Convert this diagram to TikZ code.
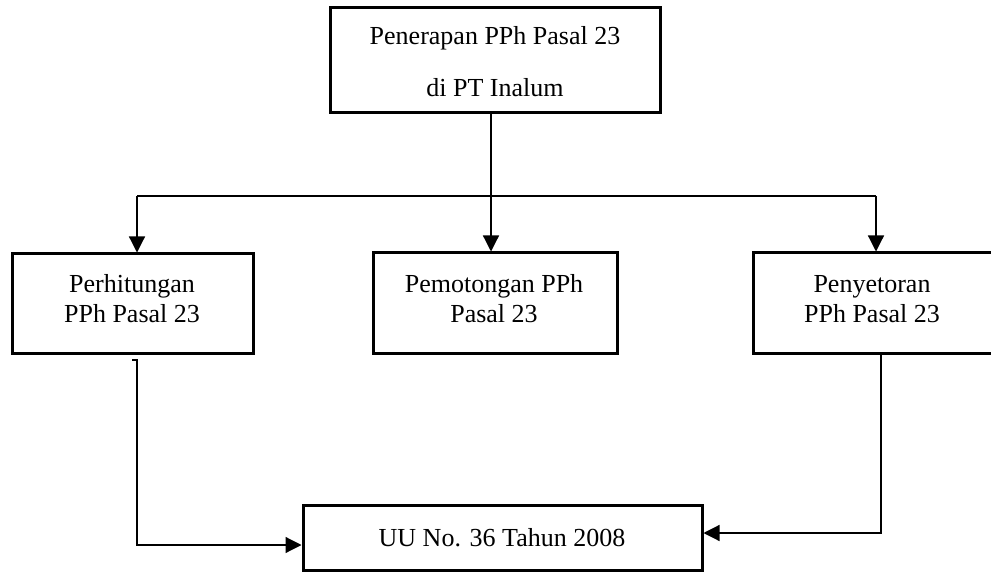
\documentclass[tikz,border=0pt]{standalone}
\usepackage{fontspec}
\setmainfont{Liberation Serif}
\usetikzlibrary{arrows.meta}
\begin{document}
\begin{tikzpicture}[x=1pt,y=-1pt,
  box/.style={draw=black,line width=3pt,rectangle,inner sep=0pt},
  lbl/.style={anchor=base,inner sep=0pt,font=\fontsize{26}{31}\selectfont},
  conn/.style={draw=black,line width=1.2pt},
  arr/.style={conn,-{Triangle[length=16pt,width=16pt]}}]
\useasboundingbox (0,0) rectangle (991,572);
% boxes
\node[box,minimum width=330,minimum height=105] (top) at (495,60.5) {};
\node[box,minimum width=241,minimum height=99] (perh) at (132.5,303.5) {};
\node[box,minimum width=244,minimum height=100] (pem) at (495,303) {};
\node[box,minimum width=240,minimum height=100] (peny) at (873,303) {};
\node[box,minimum width=399,minimum height=65] (uu) at (502.5,537.5) {};
% texts
\node[lbl] (t1) at (495,45) {Penerapan PPh Pasal 23};
\node[lbl] (t2) at (495,97) {di PT Inalum};
\node[lbl] (p1) at (132,292) {Perhitungan};
\node[lbl] (p2) at (132,323) {PPh Pasal 23};
\node[lbl] (m1) at (494,292) {Pemotongan PPh};
\node[lbl] (m2) at (494,323) {Pasal 23};
\node[lbl] (s1) at (872,292) {Penyetoran};
\node[lbl] (s2) at (872,323) {PPh Pasal 23};
\node[lbl] (u1) at (502,546) {UU No. 36 Tahun 2008};
% connectors
\coordinate (hl) at (137,196);
\coordinate (hr) at (876,196);
\coordinate (tx) at (491,0);
\draw[arr] (tx |- top.south) -- (tx |- pem.north);
\draw[conn] (hl) -- (hr);
\draw[arr] (hl) -- (hl |- perh.north);
\draw[arr] (hr) -- (hr |- peny.north);
\coordinate (lt) at (132,360);
\coordinate (lc) at (137,360);
\coordinate (lb) at (137,545);
\draw[arr] (lt) -- (lc) -- (lb) -- (lb -| uu.west);
\coordinate (rx) at (881,533);
\draw[arr] (rx |- peny.south) -- (rx) -- (rx -| uu.east);
\end{tikzpicture}
\end{document}
